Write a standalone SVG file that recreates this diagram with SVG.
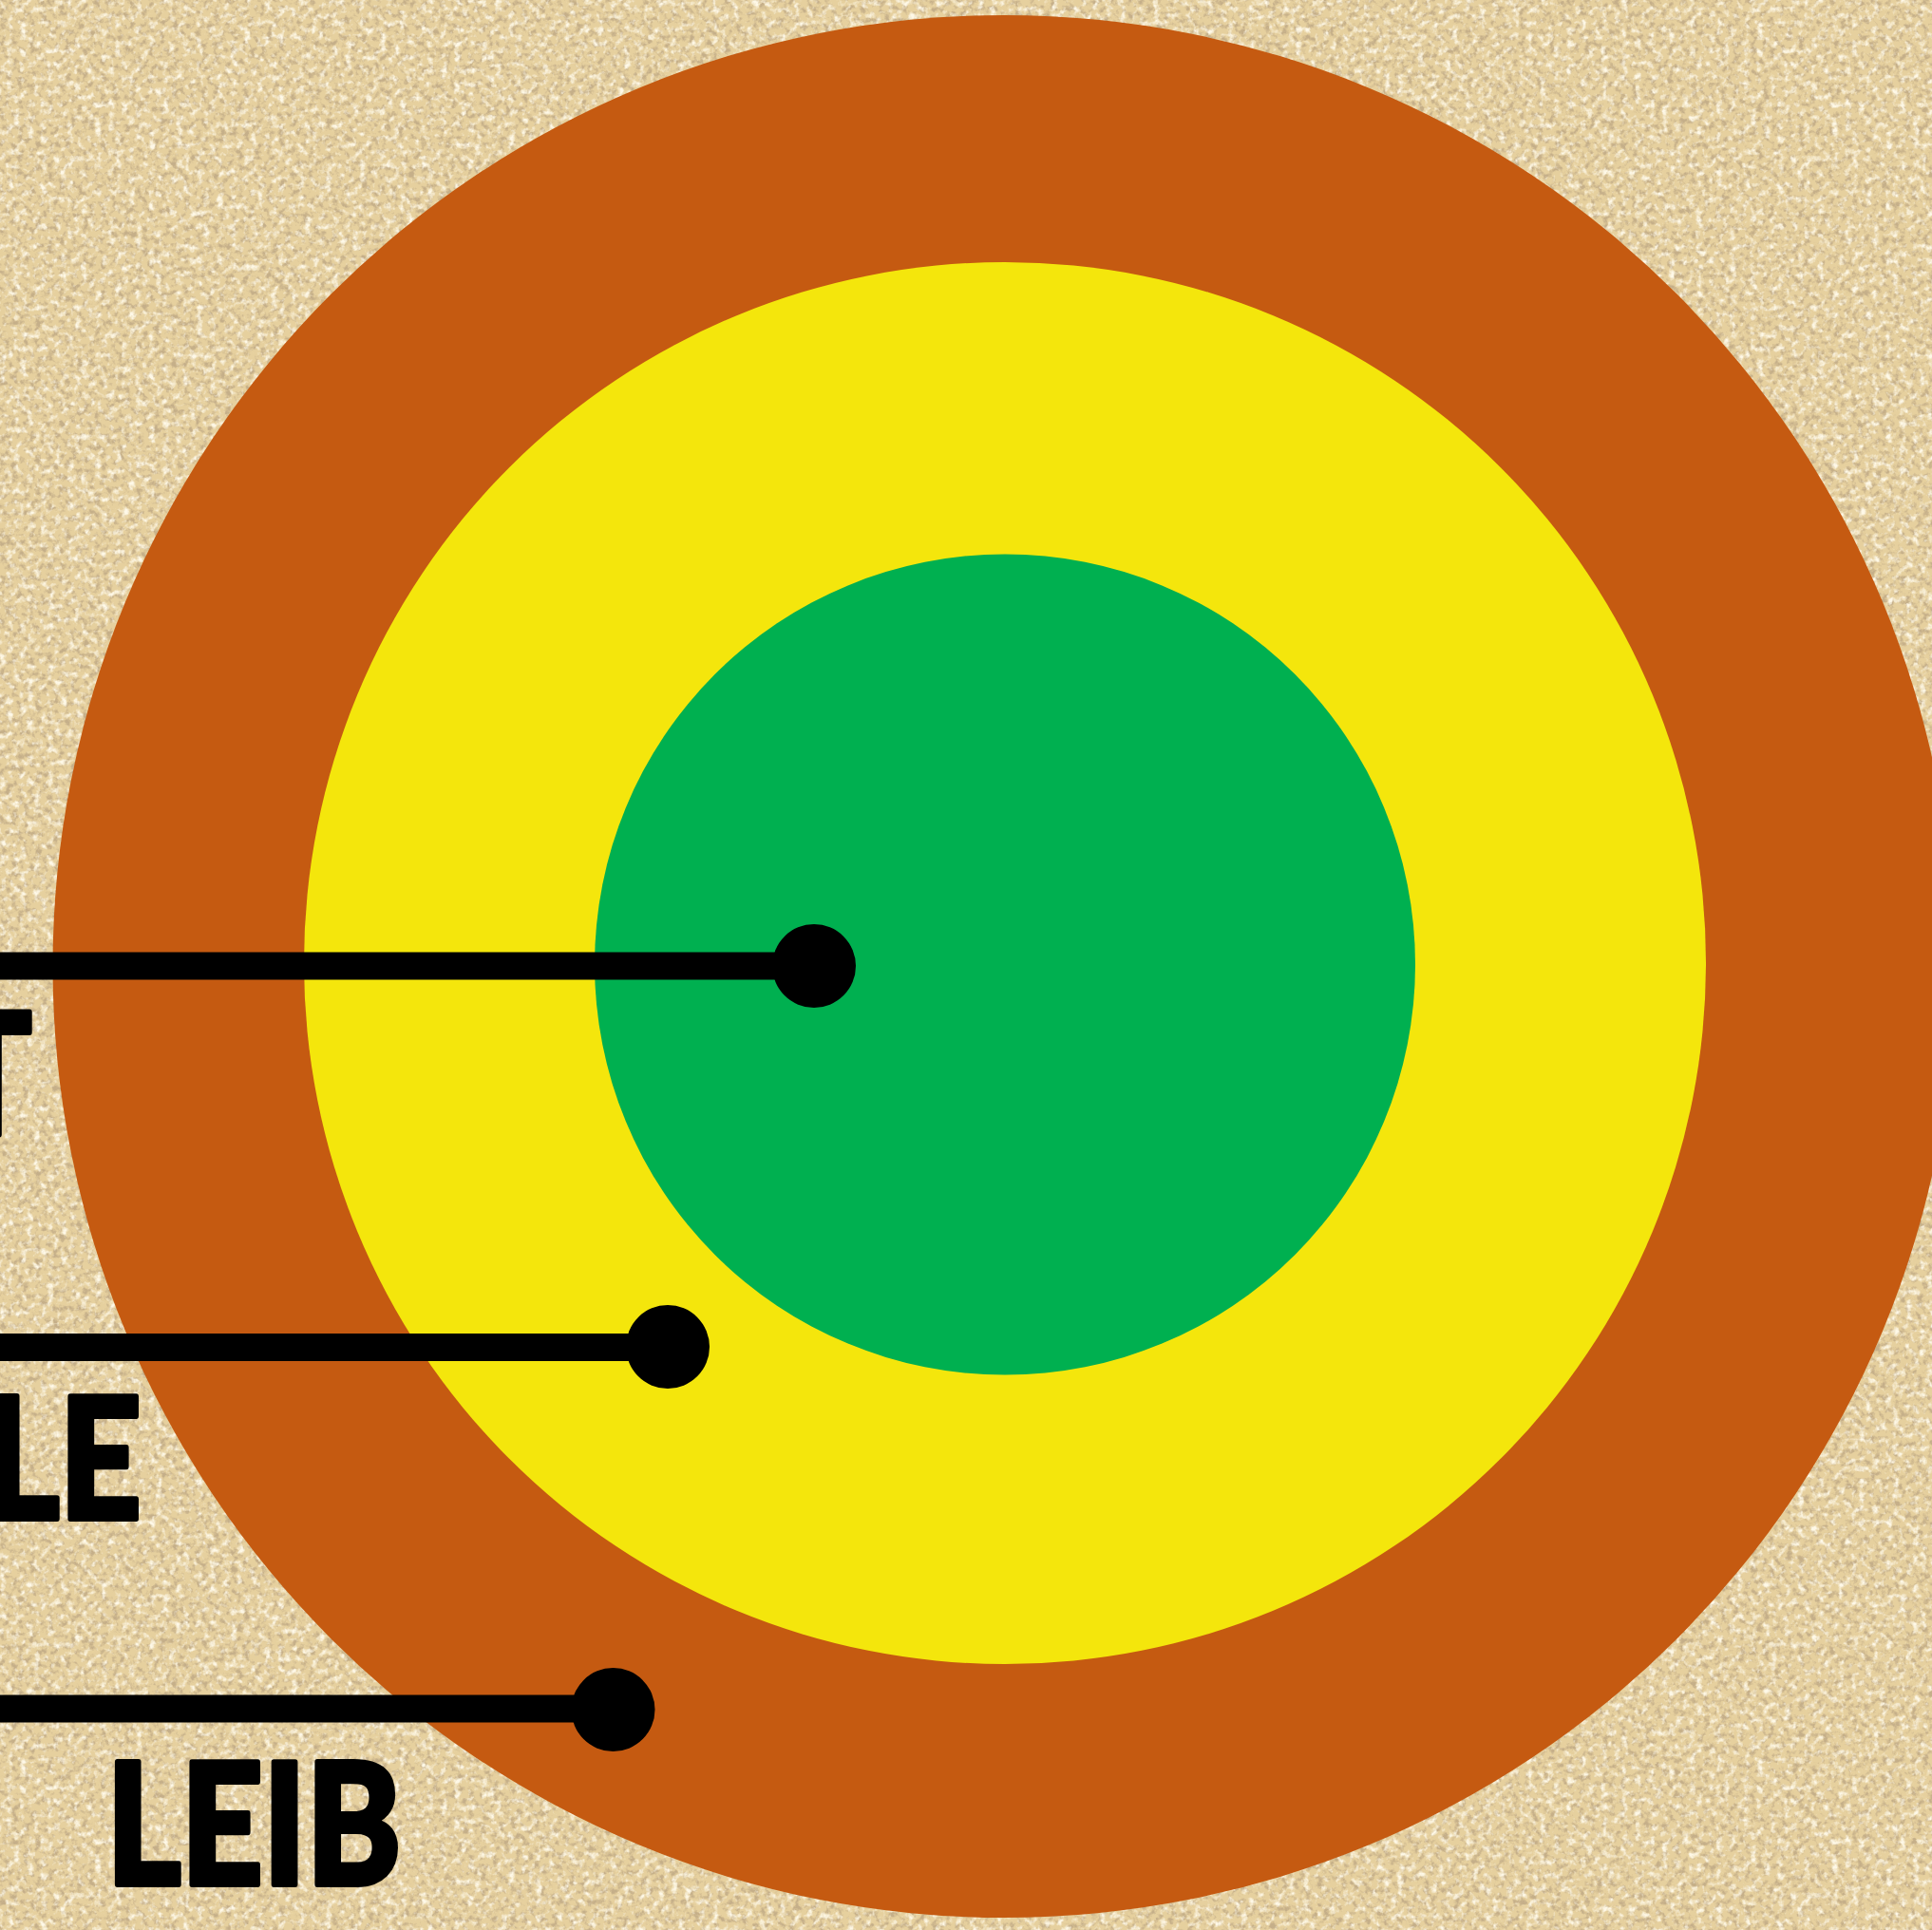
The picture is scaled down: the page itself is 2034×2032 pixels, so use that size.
<svg xmlns="http://www.w3.org/2000/svg" width="2034" height="2032" viewBox="0 0 2034 2032">
  <defs>
    <filter id="grainDark" filterUnits="userSpaceOnUse" x="0" y="0" width="2034" height="2032">
      <feTurbulence type="fractalNoise" baseFrequency="0.16" numOctaves="3" seed="7"/>
      <feColorMatrix type="matrix" values="0 0 0 0 0.56  0 0 0 0 0.43  0 0 0 0 0.25  3.8 0 0 0 -1.8"/>
    </filter>
    <filter id="grainLight" filterUnits="userSpaceOnUse" x="0" y="0" width="2034" height="2032">
      <feTurbulence type="fractalNoise" baseFrequency="0.14" numOctaves="3" seed="19"/>
      <feColorMatrix type="matrix" values="0 0 0 0 0.99  0 0 0 0 0.94  0 0 0 0 0.80  0 3.2 0 0 -1.6"/>
    </filter>
    <style>
      .label { font-family: "Lato", "Liberation Sans", sans-serif; font-weight: 900; font-size: 178px; fill: #000; stroke: #000; stroke-width: 6; stroke-linejoin: round; }
      .conn { stroke: #000; stroke-width: 29; fill: none; }
      .dot { fill: #000; }
    </style>
  </defs>

  <g id="background">
    <rect width="2034" height="2032" fill="#e6d09e"/>
    <rect width="2034" height="2032" fill="#000" filter="url(#grainDark)"/>
    <rect width="2034" height="2032" fill="#000" filter="url(#grainLight)"/>
  </g>

  <g id="leib-ring">
    <circle cx="1057" cy="1017.5" r="1001.5" fill="#c55a11"/>
  </g>
  <g id="seele-ring">
    <circle cx="1058" cy="1014" r="738" fill="#f4e60c"/>
  </g>
  <g id="geist-core">
    <circle cx="1058" cy="1015.5" r="432" fill="#00b050"/>
  </g>

  <g id="connectors">
    <line class="conn" x1="-10" y1="1017" x2="857" y2="1017"/>
    <circle class="dot" cx="857" cy="1017" r="44"/>
    <line class="conn" x1="-10" y1="1418.5" x2="703" y2="1418.5"/>
    <circle class="dot" cx="703" cy="1418" r="44"/>
    <line class="conn" x1="-10" y1="1799" x2="645" y2="1799"/>
    <circle class="dot" cx="645.5" cy="1800" r="44"/>
  </g>

  <g id="label-geist">
    <text class="label" transform="translate(-12,1194) scale(0.845,1)" x="0" y="0" text-anchor="middle">T</text>
  </g>
  <g id="label-seele">
    <text class="label" transform="translate(-16,1599) scale(0.845,1)" x="0" y="0">LE</text>
  </g>
  <g id="label-leib">
    <text class="label" transform="translate(112,1984) scale(0.845,1)" x="0" y="0">LEIB</text>
  </g>
</svg>
